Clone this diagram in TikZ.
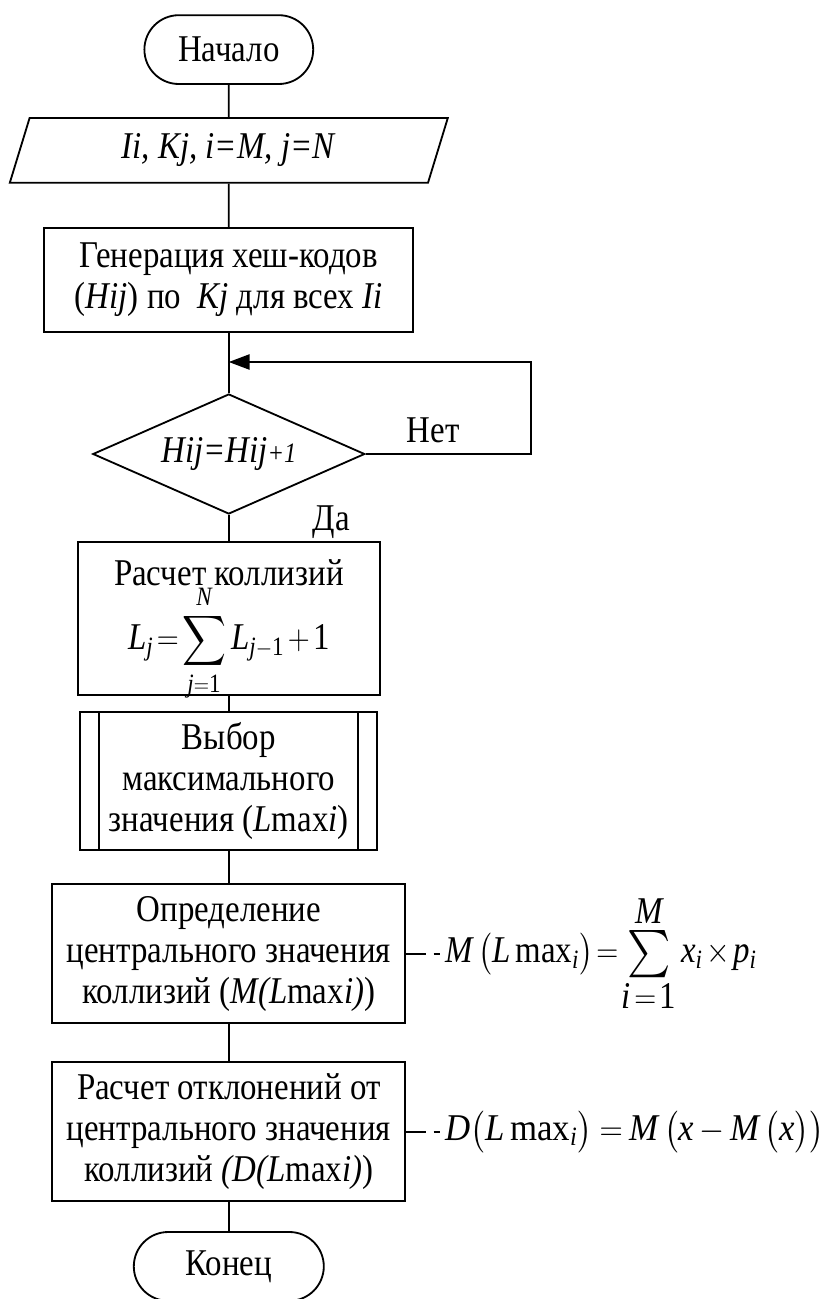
\documentclass[tikz,border=0pt]{standalone}
\usepackage{amsmath}
\usepackage{mathspec}
\setmainfont[FakeStretch=0.87]{Liberation Serif}
\setmathsfont(Digits,Latin){Liberation Serif}
\setmathrm{Liberation Serif}
\usetikzlibrary{shapes.geometric, arrows.meta}
\newcommand{\chartfont}{\fontsize{26.9}{29.1}\selectfont}
\newcommand{\smallpart}{\fontsize{20}{22}\selectfont}
\newcommand{\mathtight}{\thickmuskip=2mu\medmuskip=2mu}
\newcommand{\narrow}[1]{\scalebox{0.87}[1]{#1}}
\newcommand{\bigsum}{\mathop{\vcenter{\hbox{\scalebox{1.35}{$\sum$}}}}}

\begin{document}
\begin{tikzpicture}[line width=1.3pt, every node/.style={font=\chartfont},
  term/.style={draw, rounded corners=0.86cm, minimum height=1.72cm, align=center},
  io/.style={draw, trapezium, trapezium left angle=65, trapezium right angle=115, trapezium stretches body, minimum width=10.95cm, minimum height=1.62cm},
  block/.style={draw, minimum height=3.48cm, align=center},
  decision/.style={draw, diamond, aspect=2.27, minimum width=6.8cm, minimum height=3cm, inner sep=0pt},
  formula/.style={anchor=west, inner sep=0.12cm, font=\chartfont\mathtight},
  link/.style={dash pattern=on 0.48cm off 0.2cm},
  flow/.style={-{Triangle[length=0.52cm, width=0.38cm]}}]
  \useasboundingbox (0,0) rectangle (20.55,-32.475);
  % main column
  \node[term, minimum width=4.22cm] (start) at (5.72,-1.24) {Начало};
  \node[io] (input) at (5.72,-3.76) {\textit{Ii, Kj, i=M, j=N}};
  \node[block, minimum width=9.22cm, minimum height=2.6cm] (gen) at (5.72,-7.0) {Генерация хеш-кодов\\(\textit{Hij}) по~ \textit{Kj} для всех \textit{Ii}};
  \node[decision] (dec) at (5.72,-11.35) {\textit{Hij=Hij}{\smallpart\textit{+1}}};
  \node[block, minimum width=7.55cm, minimum height=3.83cm] (calc) at (5.72,-15.46) {};
  \node[align=center, inner sep=0pt] (calctext) at ([yshift=-0.3cm]calc.center) {Расчет коллизий\\[-0.05cm]\narrow{$\displaystyle\mathtight L_j=\sum_{j=1}^{N}L_{j-1}+1$}};
  \node[block, minimum width=7.43cm, minimum height=3.45cm] (sel) at (5.72,-19.53) {Выбор\\максимального\\значения (\textit{L}max\textit{i})};
  \node[block, minimum width=8.83cm] (det) at (5.72,-23.84) {Определение\\центрального значения\\коллизий (\textit{M(L}max\textit{i)})};
  \node[block, minimum width=8.83cm] (dev) at (5.72,-28.29) {Расчет отклонений от\\центрального значения\\коллизий \textit{(D(L}max\textit{i)})};
  \node[term, minimum width=4.75cm] (end) at (5.72,-31.66) {Конец};
  \draw ([xshift=0.5cm]sel.north west) -- ([xshift=0.5cm]sel.south west);
  \draw ([xshift=-0.5cm]sel.north east) -- ([xshift=-0.5cm]sel.south east);
  % branch labels
  \node (no) at (10.83,-10.75) {Нет};
  \node (yes) at (8.28,-13.06) {Да};
  \coordinate (loopR) at (13.28,-9.05);
  \coordinate (merge) at (5.72,-9.05);
  % connectors
  \draw (start.south) -- (input.north);
  \draw (input.south) -- (gen.north);
  \draw (gen.south) -- (dec.north);
  \draw (dec.south) -- (calc.north);
  \draw (calc.south) -- (sel.north);
  \draw (sel.south) -- (det.north);
  \draw (det.south) -- (dev.north);
  \draw (dev.south) -- (end.north);
  \draw[flow] (dec.east) -| (loopR) -- (merge);
  % formulas
  \node[formula] (fM) at (11.0,-23.84) {\narrow{$M\,\bigl(L\,\mathrm{max}_i\bigr)=\bigsum\limits^{\displaystyle M}_{\displaystyle i=1}x_i\times p_i$}};
  \node[formula] (fD) at (11.0,-28.29) {\scalebox{0.92}[1]{$\thickmuskip=4mu\medmuskip=3mu D\bigl(L\,\mathrm{max}_i\bigr)=M\,\bigl(x-M\,\bigl(x\bigr)\bigr)$}};
  \draw[link] (det.east) -- (fM.west);
  \draw[link] (dev.east) -- (fD.west);
\end{tikzpicture}
\end{document}
